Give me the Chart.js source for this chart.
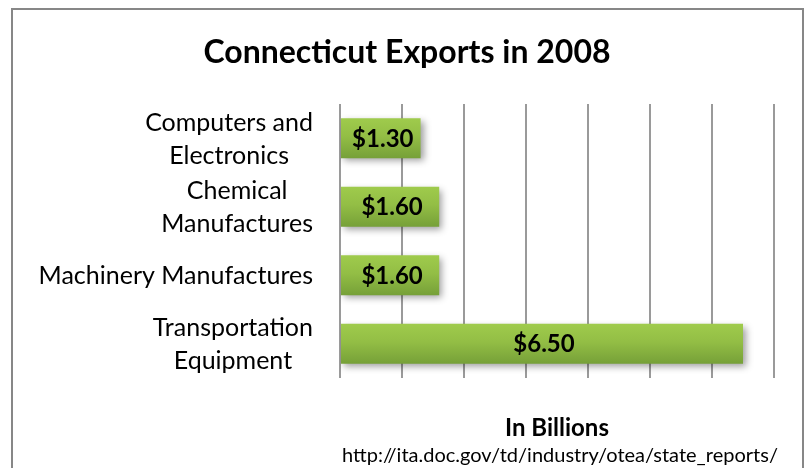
<!DOCTYPE html>
<html>
<head>
<meta charset="utf-8">
<script src="https://cdn.jsdelivr.net/npm/chart.js@4.4.0/dist/chart.umd.min.js"></script>
<style>
  html, body { margin: 0; padding: 0; background: #ffffff; }
  #wrap { width: 806px; height: 468px; position: relative; }
</style>
</head>
<body>
<div id="wrap"><canvas id="c" width="806" height="468"></canvas></div>
<script>
const categories = [
  ["Computers and", "Electronics"],
  ["Chemical", "Manufactures"],
  ["Machinery Manufactures"],
  ["Transportation", "Equipment"]
];
const exportValues = [1.30, 1.60, 1.60, 6.50];
const valueLabels = ["$1.30", "$1.60", "$1.60", "$6.50"];
const chartTitle = "Connecticut Exports in 2008";
const axisTitle = "In Billions";
const sourceText = "http://ita.doc.gov/td/industry/otea/state_reports/";

const FONT = "Lato, 'Open Sans', sans-serif";
const BAR_PCT = 0.585;

function barGradient(context) {
  const chart = context.chart;
  const area = chart.chartArea;
  const ys = chart.scales.y;
  if (!area || !ys) return '#8DB843';
  const cy = ys.getPixelForValue(context.dataIndex);
  const half = (area.bottom - area.top) / categories.length * BAR_PCT / 2;
  const g = chart.ctx.createLinearGradient(0, cy - half, 0, cy + half);
  g.addColorStop(0, '#9FCB4C');
  g.addColorStop(0.45, '#93BE45');
  g.addColorStop(1, '#76A038');
  return g;
}

const framePlugin = {
  id: 'frame',
  beforeDraw(chart) {
    const ctx = chart.ctx;
    ctx.save();
    ctx.fillStyle = '#ffffff';
    ctx.fillRect(0, 0, chart.width, chart.height);
    ctx.strokeStyle = '#878787';
    ctx.lineWidth = 2;
    ctx.strokeRect(12, 9, 791, 520);
    ctx.restore();
  }
};

const shadowPlugin = {
  id: 'barShadow',
  beforeDatasetDraw(chart) {
    const ctx = chart.ctx;
    ctx.save();
    ctx.shadowColor = 'rgba(0,0,0,0.38)';
    ctx.shadowBlur = 7;
    ctx.shadowOffsetX = 3;
    ctx.shadowOffsetY = 3;
  },
  afterDatasetDraw(chart) {
    chart.ctx.restore();
  }
};

const labelPlugin = {
  id: 'labels',
  afterDatasetsDraw(chart) {
    const ctx = chart.ctx;
    const meta = chart.getDatasetMeta(0);
    ctx.save();
    ctx.font = "bold 24px " + FONT;
    ctx.fillStyle = '#000000';
    ctx.textAlign = 'center';
    ctx.textBaseline = 'middle';
    meta.data.forEach((bar, i) => {
      ctx.fillText(valueLabels[i], (bar.base + bar.x) / 2 + 2, bar.y + 1);
    });
    const ys = chart.scales.y;
    const rightEdge = chart.chartArea.left - 27;
    const lineH = 33;
    ctx.font = "25px " + FONT;
    categories.forEach((lines, i) => {
      const cy = ys.getPixelForValue(i) + 1;
      const maxW = Math.max(...lines.map(l => ctx.measureText(l).width));
      const cx = rightEdge - maxW / 2;
      const y0 = cy - (lines.length - 1) * lineH / 2;
      lines.forEach((l, k) => ctx.fillText(l, cx, y0 + k * lineH));
    });
    ctx.font = "20px " + FONT;
    ctx.fillText(sourceText, (chart.chartArea.left + chart.chartArea.right) / 2 + 3, 456);
    ctx.restore();
  }
};

new Chart(document.getElementById('c'), {
  type: 'bar',
  data: {
    labels: categories,
    datasets: [{
      data: exportValues,
      backgroundColor: barGradient,
      borderWidth: 0,
      barPercentage: BAR_PCT,
      categoryPercentage: 1.0
    }]
  },
  options: {
    indexAxis: 'y',
    responsive: false,
    animation: false,
    devicePixelRatio: 1,
    layout: { padding: { left: 40, right: 32, top: 33, bottom: 25.6 } },
    plugins: {
      legend: { display: false },
      tooltip: { enabled: false },
      title: {
        display: true,
        text: chartTitle,
        color: '#000000',
        font: { family: FONT, size: 32, weight: 'bold' },
        padding: { top: 0, bottom: 32.6 }
      }
    },
    scales: {
      x: {
        min: 0,
        max: 7,
        ticks: { display: false, stepSize: 1 },
        grid: { color: '#9a9a9a', lineWidth: 2, drawTicks: false },
        border: { display: false },
        title: {
          display: true,
          text: axisTitle,
          color: '#000000',
          font: { family: FONT, size: 24, weight: 'bold' },
          padding: { top: 35.6, bottom: 0 }
        }
      },
      y: {
        ticks: { display: false },
        grid: { display: false, drawTicks: false },
        border: { display: false },
        afterFit(scale) { scale.width = 300; }
      }
    }
  },
  plugins: [framePlugin, shadowPlugin, labelPlugin]
});
</script>
</body>
</html>
